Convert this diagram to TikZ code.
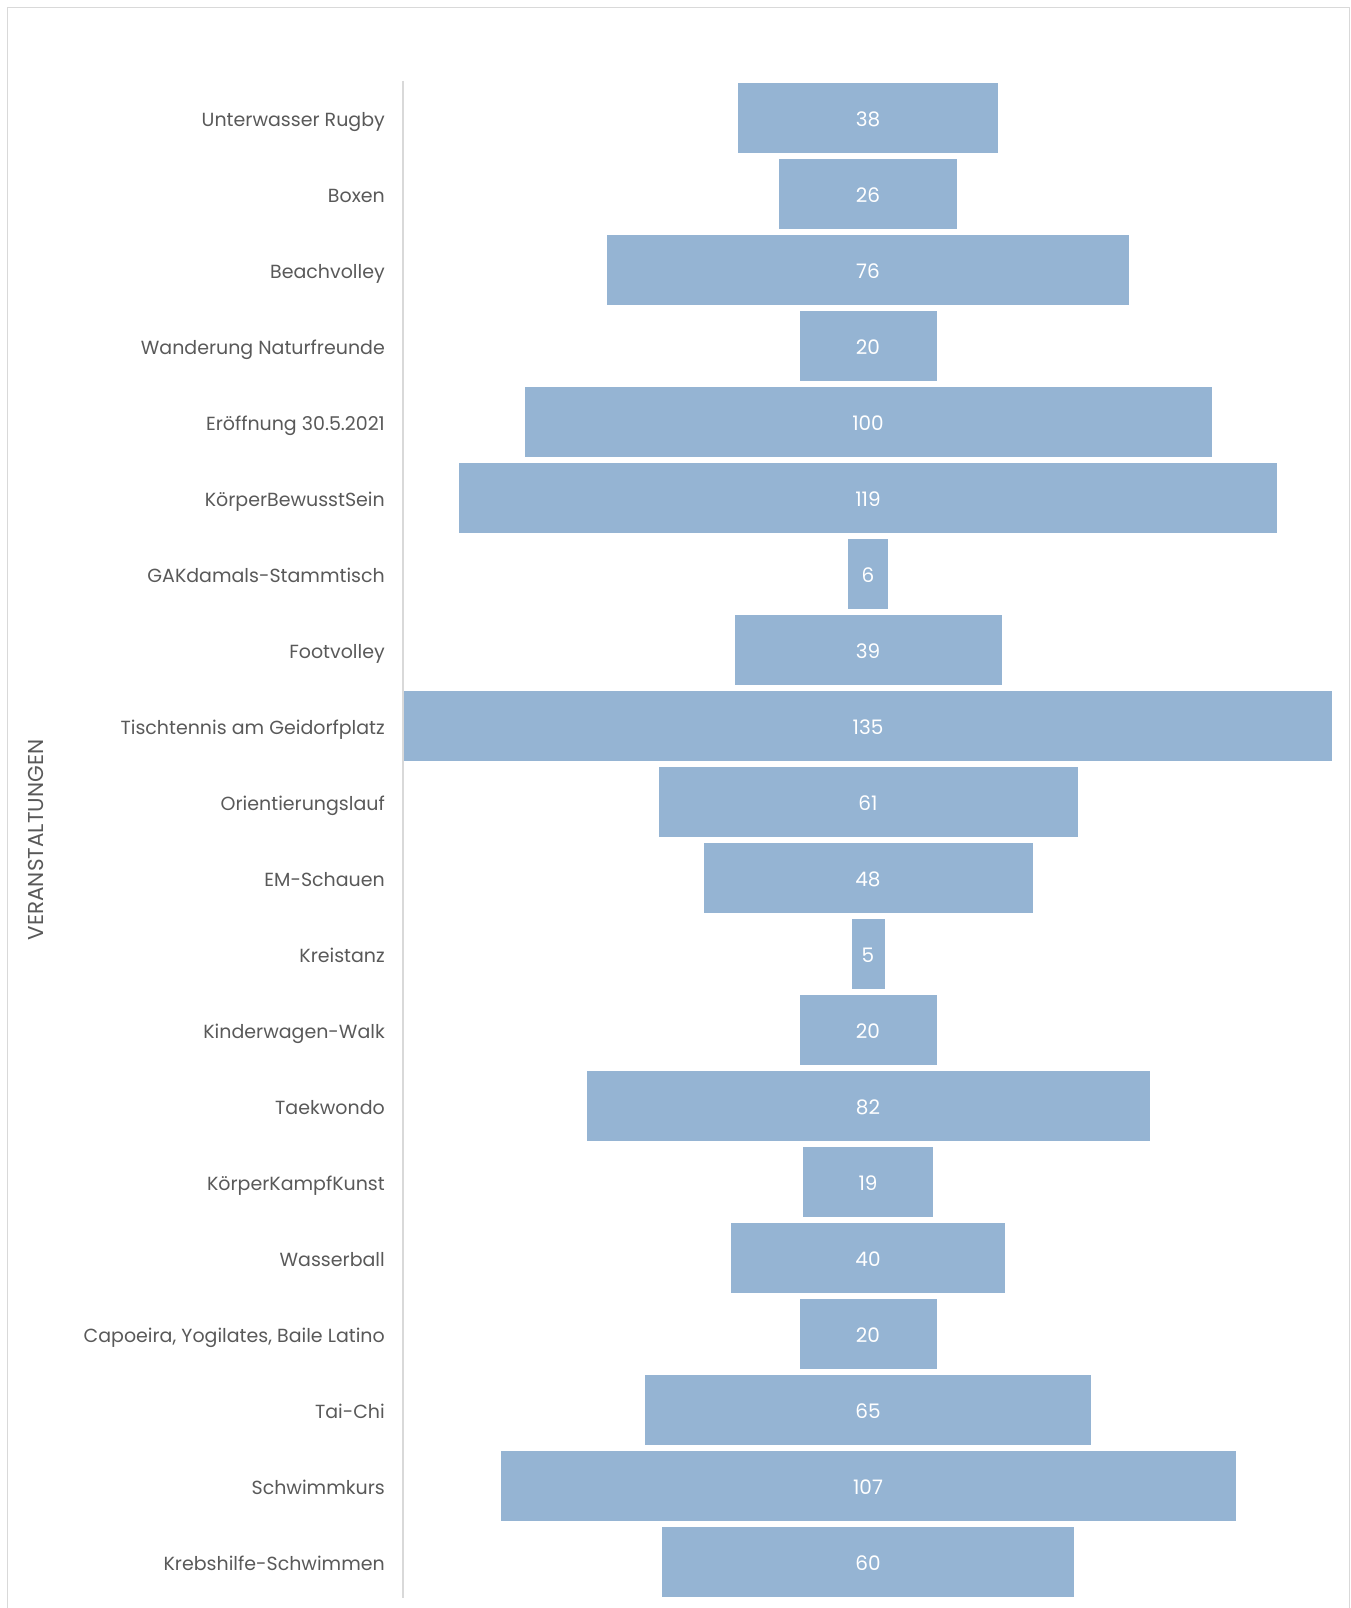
\documentclass[tikz,border=0pt]{standalone}
\usepackage{fontspec}
\setmainfont{Poppins}
\usetikzlibrary{positioning}
\definecolor{barblue}{RGB}{149,180,211}
\definecolor{textgray}{RGB}{89,89,89}
\definecolor{linegray}{RGB}{217,217,217}

\begin{document}
\begin{tikzpicture}[x=1pt,y=-1pt,
    bar/.style={fill=barblue,draw=white,line width=0.6pt,minimum height=71.5pt,
      inner sep=0pt,text=white,text height=17.5pt,text depth=0pt,
      font=\fontsize{20}{20}\selectfont},
    evlabel/.style={anchor=base east,yshift=-8.8pt,text=textgray,inner sep=0pt,
      font=\fontsize{19}{19}\selectfont}]
    \useasboundingbox (0,0) rectangle (1351,1608);
    % Frame
    \draw[linegray,line width=1pt] (7,1608) -- (7,8) -- (1349,8) -- (1349,1608);

    % Bars
    \node[bar,minimum width=38*6.88pt] (rugby) at (868,117.7) {38};
    \node[bar,minimum width=26*6.88pt] (boxen) at (868,193.7) {26};
    \node[bar,minimum width=76*6.88pt] (beach) at (868,269.7) {76};
    \node[bar,minimum width=20*6.88pt] (wander) at (868,345.7) {20};
    \node[bar,minimum width=100*6.88pt] (eroeff) at (868,421.7) {100};
    \node[bar,minimum width=119*6.88pt] (koerper) at (868,497.7) {119};
    \node[bar,minimum width=6*6.88pt] (gak) at (868,573.7) {6};
    \node[bar,minimum width=39*6.88pt] (foot) at (868,649.7) {39};
    \node[bar,minimum width=135*6.88pt] (tisch) at (868,725.7) {135};
    \node[bar,minimum width=61*6.88pt] (orient) at (868,801.7) {61};
    \node[bar,minimum width=48*6.88pt] (em) at (868,877.7) {48};
    \node[bar,minimum width=5*6.88pt] (kreis) at (868,953.7) {5};
    \node[bar,minimum width=20*6.88pt] (kinder) at (868,1029.7) {20};
    \node[bar,minimum width=82*6.88pt] (taek) at (868,1105.7) {82};
    \node[bar,minimum width=19*6.88pt] (kampf) at (868,1181.7) {19};
    \node[bar,minimum width=40*6.88pt] (wasser) at (868,1257.7) {40};
    \node[bar,minimum width=20*6.88pt] (capo) at (868,1333.7) {20};
    \node[bar,minimum width=65*6.88pt] (taichi) at (868,1409.7) {65};
    \node[bar,minimum width=107*6.88pt] (schwimm) at (868,1485.7) {107};
    \node[bar,minimum width=60*6.88pt] (krebs) at (868,1561.7) {60};

    % Axis
    \coordinate (axtop) at (403,81);
    \coordinate (axbot) at (403,1598);
    \draw[linegray,line width=2pt] (axtop) -- (axbot);

    % Labels
    \node[evlabel] (lrugby) at (385,117.7) {Unterwasser Rugby};
    \node[evlabel] (lboxen) at (385,193.7) {Boxen};
    \node[evlabel] (lbeach) at (385,269.7) {Beachvolley};
    \node[evlabel] (lwander) at (385,345.7) {Wanderung Naturfreunde};
    \node[evlabel] (leroeff) at (385,421.7) {Eröffnung 30.5.2021};
    \node[evlabel] (lkoerper) at (385,497.7) {KörperBewusstSein};
    \node[evlabel] (lgak) at (385,573.7) {GAKdamals-Stammtisch};
    \node[evlabel] (lfoot) at (385,649.7) {Footvolley};
    \node[evlabel] (ltisch) at (385,725.7) {Tischtennis am Geidorfplatz};
    \node[evlabel] (lorient) at (385,801.7) {Orientierungslauf};
    \node[evlabel] (lem) at (385,877.7) {EM-Schauen};
    \node[evlabel] (lkreis) at (385,953.7) {Kreistanz};
    \node[evlabel] (lkinder) at (385,1029.7) {Kinderwagen-Walk};
    \node[evlabel] (ltaek) at (385,1105.7) {Taekwondo};
    \node[evlabel] (lkampf) at (385,1181.7) {KörperKampfKunst};
    \node[evlabel] (lwasser) at (385,1257.7) {Wasserball};
    \node[evlabel] (lcapo) at (385,1333.7) {Capoeira, Yogilates, Baile Latino};
    \node[evlabel] (ltaichi) at (385,1409.7) {Tai-Chi};
    \node[evlabel] (lschwimm) at (385,1485.7) {Schwimmkurs};
    \node[evlabel] (lkrebs) at (385,1561.7) {Krebshilfe-Schwimmen};

    % Axis title
    \node[rotate=90,text=textgray,font=\fontsize{21.5}{21.5}\selectfont] (title) at (36,840) {VERANSTALTUNGEN};
\end{tikzpicture}
\end{document}
